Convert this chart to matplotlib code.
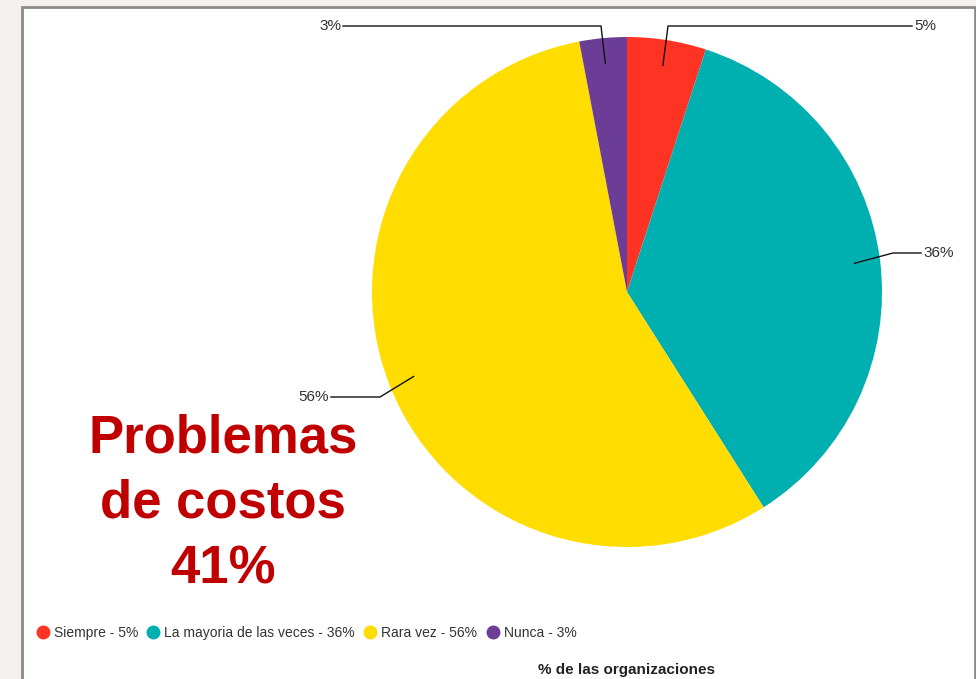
import matplotlib.pyplot as plt
import numpy as np
from matplotlib.patches import Rectangle
from matplotlib.lines import Line2D

categorias = ["Siempre", "La mayoria de las veces", "Rara vez", "Nunca"]
valores = [5, 36, 56, 3]
colores = ["#ff3324", "#00b0b0", "#ffdd00", "#6b3d97"]
titulo = "% de las organizaciones"
nota = "Problemas\nde costos\n41%"

plt.rcParams['font.family'] = ['Liberation Sans', 'DejaVu Sans']

W, H = 976, 679
fig = plt.figure(figsize=(W / 100, H / 100), dpi=100, facecolor="#f3f0ee")
ax = fig.add_axes([0, 0, 1, 1])

# weisses Panel mit grauem Rand
ax.add_patch(Rectangle((22, -20), 953, H - 7 + 20, facecolor="white",
                       edgecolor="#8a8a8a", lw=2, zorder=0))

cx, cy, R = 627, H - 292, 255
wedges, _ = ax.pie(valores, colors=colores, startangle=90, counterclock=False,
                   center=(cx, cy), radius=R, frame=True,
                   wedgeprops=dict(linewidth=0))
ax.set_xlim(0, W)
ax.set_ylim(0, H)
ax.set_aspect('equal')
ax.axis('off')

# Beschriftungen mit Knicklinien: (Knick x, Knick y, Text x, Ausrichtung)
knicke = [
    (668, H - 26, 914, 'left'),
    (893, H - 253, 923, 'left'),
    (380, H - 397, 329, 'right'),
    (601, H - 26, 341, 'right'),
]
for w, v, (kx, ky, tx, ha) in zip(wedges, valores, knicke):
    mitte = np.deg2rad((w.theta1 + w.theta2) / 2)
    px = cx + 0.9 * R * np.cos(mitte)
    py = cy + 0.9 * R * np.sin(mitte)
    ende = tx + (-2 if ha == 'left' else 2)
    ax.plot([px, kx, ende], [py, ky, ky], color="#111111", lw=1, zorder=5)
    ax.text(tx, ky, f"{v}%", ha=ha, va='center', fontsize=11, color="#333333")

ax.text(223, 175, nota, ha='center', va='center', fontsize=38,
        fontweight='bold', color="#c00000", linespacing=1.4)

handles = [Line2D([], [], marker='o', linestyle='', markersize=9,
                  markerfacecolor=c, markeredgecolor=c) for c in colores]
labels = [f"{c} - {v}%" for c, v in zip(categorias, valores)]
ax.legend(handles, labels, ncol=4, loc='center left',
          bbox_to_anchor=(30 / W, (H - 633) / H), frameon=False,
          fontsize=10, handletextpad=0.3, columnspacing=0.6,
          borderaxespad=0, handlelength=1.0, labelcolor="#333333")

ax.text(cx, H - 670, titulo, ha='center', va='center', fontsize=11,
        fontweight='bold', color="#222222")

fig.savefig("out.png", dpi=100, facecolor=fig.get_facecolor())
